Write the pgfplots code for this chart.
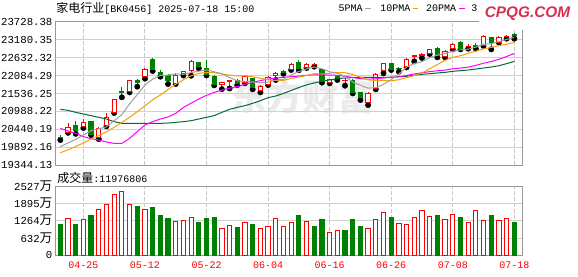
\documentclass[border=0pt]{standalone}
\usepackage{fontspec}
\usepackage{pgfplots}
\pgfplotsset{compat=1.18}
\usepackage{pgfplotstable}
\setmainfont{Liberation Mono}
\newfontfamily\cjk{Noto Sans CJK SC}
\newfontfamily\logof{Liberation Sans}
\definecolor{upred}{HTML}{FF0000}
\definecolor{dngreen}{HTML}{008000}
\definecolor{ma5}{HTML}{A0A0A0}
\definecolor{ma10}{HTML}{F5A000}
\definecolor{ma20}{HTML}{FF00FF}
\definecolor{ma60}{HTML}{006B3A}
\definecolor{gridc}{HTML}{D0D0D0}
\definecolor{dashc}{HTML}{C8C8C8}
\definecolor{framec}{HTML}{999999}
\definecolor{logored}{HTML}{D62F4F}
\definecolor{wm}{HTML}{EBEBEB}

\pgfplotstableread{
i o h l c
1 20350 20620 20330 20505
3 20519 20740 20478 20632
5 20202 20509 20136 20468
6 20555 20948 20530 20800
7 20969 21378 20938 21357
9 21592 21950 21572 21920
11 22052 22308 21991 22277
15 21848 22154 21827 22093
16 22150 22215 22090 22200
17 22240 22560 22080 22528
21 21817 21900 21670 21880
22 21915 21950 21690 21935
24 21880 22100 21850 22050
26 21623 21797 21572 21766
27 21817 22063 21797 22030
28 22083 22206 21950 22155
30 22285 22461 22257 22430
32 22335 22480 22318 22420
33 22420 22482 22359 22440
35 21868 21981 21848 21971
37 21930 22001 21776 21950
40 21265 21592 21183 21541
41 21684 22175 21664 22124
42 22236 22461 22155 22441
45 22369 22625 22338 22584
46 22665 22706 22522 22686
47 22696 22778 22625 22717
48 22757 22911 22747 22890
50 22676 22859 22645 22829
51 22911 23074 22890 23044
53 22972 23064 22911 22992
55 23013 23320 22992 23299
57 23115 23299 23095 23268
58 23279 23340 23217 23299
}\upC

\pgfplotstableread{
i o h l c
0 20202 20264 20110 20182
2 20560 20678 20300 20392
4 20672 20703 20264 20284
8 21590 21735 21419 21568
10 21950 21981 21746 21868
12 22594 22614 22226 22257
13 22175 22257 22052 22134
14 22073 22124 21827 21950
18 22475 22490 22310 22360
19 22308 22563 22090 22110
20 22052 22103 21787 21817
23 21930 21980 21796 21850
25 21985 22001 21664 21730
29 22200 22257 22140 22180
31 22500 22560 22250 22290
34 22278 22308 21868 21899
36 22063 22114 21950 22032
38 21950 21971 21541 21572
39 21562 21592 21337 21408
43 22441 22461 22257 22277
44 22318 22359 22206 22297
49 22931 22962 22645 22686
52 23095 23135 22890 22931
54 23003 23084 22911 22982
56 23238 23268 22890 23115
59 23330 23401 23217 23309
}\dnC

\pgfplotstableread{
i ma5 ma10 ma20 ma60
0 19906 19720 20468 21051
1 20020 19810 20386 21020
2 20130 19910 20315 20959
3 20260 20020 20213 20908
4 20401 20140 20151 20857
5 20454 20240 20110 20805
6 20513 20360 20049 20754
7 20705 20500 20008 20673
8 20889 20650 20008 20622
9 21216 20809 20161 20622
10 21500 20977 20366 20622
11 21797 21155 20570 20622
12 21977 21341 20673 20622
13 22091 21490 20754 20622
14 22097 21657 20816 20630
15 22142 21821 20928 20652
16 22124 21960 21110 20673
17 22177 22077 21240 20703
18 22222 22157 21370 20754
19 22259 22178 21480 20805
20 22203 22173 21570 20857
21 22142 22133 21640 20959
22 22026 22101 21700 21051
23 21924 22073 21748 21112
24 21905 22082 21818 21163
25 21891 22047 21880 21235
26 21868 22005 21931 21316
27 21885 21955 21978 21408
28 21946 21935 22008 21460
29 21971 21938 22030 21540
30 22108 21999 22054 21630
31 22210 22039 22069 21720
32 22291 22088 22095 21800
33 22349 22147 22110 21860
34 22295 22133 22108 21910
35 22204 22156 22101 21950
36 22155 22182 22094 21991
37 22059 22175 22065 22012
38 21885 22117 22026 22022
39 21787 22041 21990 22032
40 21701 21952 21976 22032
41 21719 21937 21988 22032
42 21817 21938 22013 22032
43 21958 21922 22034 22035
44 22136 21961 22047 22052
45 22345 22023 22089 22063
46 22457 22088 22135 22100
47 22512 22165 22170 22124
48 22635 22297 22207 22144
49 22713 22424 22233 22165
50 22762 22553 22253 22185
51 22833 22645 22291 22216
52 22876 22694 22316 22236
53 22896 22766 22344 22257
54 22956 22834 22398 22287
55 23050 22906 22464 22318
56 23064 22949 22518 22349
57 23131 23004 22584 22389
58 23193 23045 22671 22451
59 23258 23107 22766 22522
}\maT

\pgfplotstableread{
i v
1 1349
3 1312
5 1677
6 1859
7 2223
8 2333
9 1859
11 1677
15 1239
16 1276
17 1373
21 972
22 1094
24 1203
26 984
27 1057
28 1349
29 1033
30 1215
32 1239
35 838
36 923
40 960
41 1288
42 1567
44 1166
45 1130
46 1385
47 1640
48 1422
50 1312
51 1494
53 1203
54 1616
55 1276
57 1276
58 1349
}\upV

\pgfplotstableread{
i v
0 1142
2 1142
4 1470
10 1786
12 1750
13 1434
14 1349
18 1215
19 1349
20 1385
23 1021
25 1130
31 1470
33 1069
34 1288
37 923
38 1288
39 1033
43 1361
49 1434
52 1361
56 1470
59 1198
}\dnV

\pgfplotsset{
  common/.style={scale only axis, width=349.5pt, anchor=south west,
    xmin=-0.56, xmax=60, enlargelimits=false, clip=true,
    scaled ticks=false,
    major tick length=0pt,
    axis line style={framec, line width=0.75pt},
    tick label style={font=\fontsize{8}{8}\selectfont},
    yticklabel style={anchor=east, inner sep=0pt, xshift=-2.5pt},
    y grid style={gridc, solid, line width=0.75pt},
    x grid style={dashc, dash pattern=on 3pt off 1.5pt, line width=0.75pt},
  },
  priceax/.style={common, height=107.25pt, at={(42pt,83.25pt)},
    ymin=19344.13, ymax=23728.38},
  volax/.style={common, height=52pt, at={(42pt,15.5pt)},
    ymin=0, ymax=2527},
}

\begin{document}
\begin{tikzpicture}
\useasboundingbox (0,0) rectangle (433.5pt,207pt);
\fill[white] (0,0) rectangle (433.5pt,207pt);
% watermark
\node[text=wm, inner sep=0pt] at (226.5pt,134.5pt) {\cjk\bfseries\fontsize{27}{27}\selectfont 东方财富};

% ---------- price panel: grid, frame, wicks ----------
\begin{axis}[priceax,
  ytick={19344.13,19892.16,20440.19,20988.22,21536.25,22084.29,22632.32,23180.35,23728.38},
  yticklabels={19344.13,19892.16,20440.19,20988.22,21536.25,22084.29,22632.32,23180.35,23728.38},
  xtick={3,11,19,27,35,43,51,59}, xticklabels={},
  xmajorgrids, ymajorgrids]
  \addplot[only marks, mark=none, error bars/.cd, y dir=plus, y explicit, error mark=none,
    error bar style={draw=upred, solid, line width=0.75pt}]
    table[x=i, y=l, y error expr=\thisrow{h}-\thisrow{l}]{\upC};
  \addplot[only marks, mark=none, error bars/.cd, y dir=plus, y explicit, error mark=none,
    error bar style={draw=dngreen, solid, line width=0.75pt}]
    table[x=i, y=l, y error expr=\thisrow{h}-\thisrow{l}]{\dnC};
\end{axis}

% up bodies
\begin{axis}[priceax, hide axis, ybar stacked, bar width=0.55]
  \addplot[draw=none, fill=none] table[x=i, y=o]{\upC};
  \addplot[draw=upred, fill=white, line width=0.75pt] table[x=i, y expr=\thisrow{c}-\thisrow{o}]{\upC};
\end{axis}

% down bodies
\begin{axis}[priceax, hide axis, ybar stacked, bar width=0.55]
  \addplot[draw=none, fill=none] table[x=i, y=c]{\dnC};
  \addplot[draw=dngreen, fill=dngreen, line width=0.75pt] table[x=i, y expr=\thisrow{o}-\thisrow{c}]{\dnC};
\end{axis}

% moving averages
\begin{axis}[priceax, hide axis]
  \addplot[ma60, line width=0.75pt, mark=none] table[x=i, y=ma60]{\maT};
  \addplot[ma20, line width=0.75pt, mark=none] table[x=i, y=ma20]{\maT};
  \addplot[ma10, line width=0.75pt, mark=none] table[x=i, y=ma10]{\maT};
  \addplot[ma5, line width=0.75pt, mark=none] table[x=i, y=ma5]{\maT};
\end{axis}

% ---------- volume panel ----------
\begin{axis}[volax, ybar, bar width=0.55,
  ytick={0,631.75,1263.5,1895.25,2527},
  yticklabels={0,{632{\cjk\fontsize{9.5}{9.5}\selectfont 万}},{1264{\cjk\fontsize{9.5}{9.5}\selectfont 万}},{1895{\cjk\fontsize{9.5}{9.5}\selectfont 万}},{2527{\cjk\fontsize{9.5}{9.5}\selectfont 万}}},
  xtick={3,11,19,27,35,43,51,59},
  xticklabels={04-25,05-12,05-22,06-04,06-16,06-26,07-08,07-18},
  xticklabel style={anchor=north, inner sep=0pt, yshift=-5pt, text=upred, font=\fontsize{7.5}{7.5}\selectfont},
  xmajorgrids, ymajorgrids]
  \addplot[draw=upred, fill=white, line width=0.75pt, bar shift=0pt] table[x=i, y=v]{\upV};
  \addplot[draw=dngreen, fill=dngreen, line width=0.75pt, bar shift=0pt] table[x=i, y=v]{\dnV};
\end{axis}

% ---------- texts ----------
\node[anchor=west, inner sep=0pt] at (42pt,200.6pt)
  {{\cjk\fontsize{9}{9}\selectfont 家电行业}{\fontsize{7.5}{7.5}\selectfont[BK0456] 2025-07-18 15:00}};
\node[anchor=west, inner sep=0pt] at (42.75pt,73.5pt)
  {{\cjk\fontsize{9}{9}\selectfont 成交量}{\fontsize{7.5}{7.5}\selectfont:11976806}};

% legend
\node[anchor=west, inner sep=0pt] at (253.7pt,200.8pt) {\fontsize{7.5}{7.5}\selectfont 5PMA};
\draw[ma5, line width=1pt] (273.75pt,200.8pt) -- (278pt,200.8pt);
\node[anchor=west, inner sep=0pt] at (285pt,200.8pt) {\fontsize{7.5}{7.5}\selectfont 10PMA};
\draw[ma10, line width=1pt] (309.5pt,200.8pt) -- (313.7pt,200.8pt);
\node[anchor=west, inner sep=0pt] at (319.3pt,200.8pt) {\fontsize{7.5}{7.5}\selectfont 20PMA};
\draw[ma20, line width=1pt] (344.5pt,200.8pt) -- (348.75pt,200.8pt);
\node[anchor=west, inner sep=0pt] at (353.25pt,200.8pt) {\fontsize{7.5}{7.5}\selectfont 3};

% logo box
\fill[white] (359.25pt,184.5pt) rectangle (433.5pt,207pt);
\node[text=logored, inner sep=0pt] at (395.6pt,196.9pt)
  {\logof\bfseries\itshape\fontsize{11.5}{11.5}\selectfont CPQG.COM};
\end{tikzpicture}
\end{document}
